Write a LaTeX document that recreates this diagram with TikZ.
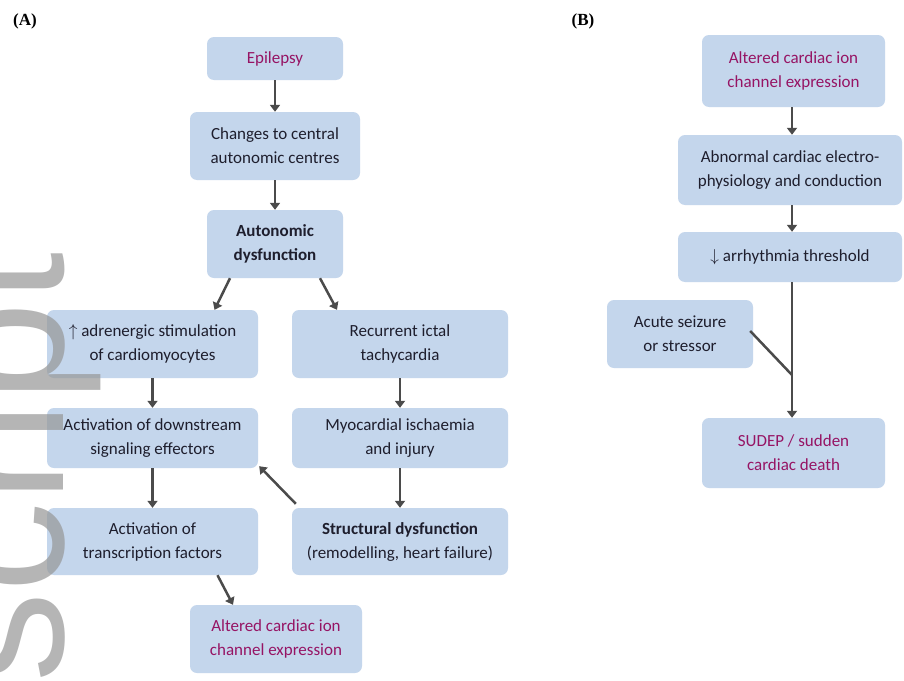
\documentclass[tikz,border=0pt]{standalone}
\usepackage{fontspec}
\usepackage{tikz}
\usetikzlibrary{arrows.meta}
\setmainfont{Carlito}
\newfontfamily\lblfont{Liberation Serif}
\newfontfamily\wmfont{Liberation Sans}
\definecolor{boxcol}{RGB}{196,214,236}
\definecolor{txtcol}{RGB}{30,30,45}
\definecolor{hlcol}{RGB}{150,20,100}
\definecolor{arrcol}{RGB}{75,75,75}
\definecolor{wmcol}{RGB}{150,150,150}
\tikzset{every picture/.style={x=1pt,y=-1pt}}
\tikzset{box/.style={rectangle,rounded corners=7pt,fill=boxcol,align=center,inner sep=2pt,text=txtcol,font=\fontsize{17}{24}\selectfont}}
\tikzset{hl/.style={text=hlcol}}
\tikzset{flow/.style={-{Triangle[length=7pt,width=10pt]},line width=2.5pt,draw=arrcol}}
\tikzset{merge/.style={line width=2.5pt,draw=arrcol}}
\tikzset{panel/.style={font=\lblfont\bfseries\fontsize{17}{17}\selectfont}}
\tikzset{wmark/.style={text=wmcol,opacity=.7,inner sep=0pt,font=\wmfont\fontsize{180}{180}\selectfont}}

\begin{document}
\begin{tikzpicture}
\useasboundingbox (0,0) rectangle (904,680);
\clip (0,0) rectangle (904,680);
\fill [white] (0,0) rectangle (904,680);

\node [panel] (la) at (25,21) {(A)};
\node [panel] (lb) at (583,21) {(B)};

\node [box,hl,minimum width=136pt,minimum height=43pt] (epi) at (275,58.5) {Epilepsy};
\node [box,minimum width=170pt,minimum height=68pt] (chg) at (275,146) {Changes to central\\autonomic centres};
\node [box,minimum width=136pt,minimum height=68pt] (aut) at (275,244) {\textbf{Autonomic}\\\textbf{dysfunction}};

\node [box,minimum width=211pt,minimum height=68pt] (adr) at (152.5,344) {$\uparrow$ adrenergic stimulation\\of cardiomyocytes};
\node [box,minimum width=211pt,minimum height=60pt] (dsr) at (152.5,438) {Activation of downstream\\signaling effectors};
\node [box,minimum width=211pt,minimum height=67pt] (trn) at (152.5,541.5) {Activation of\\transcription factors};

\node [box,minimum width=216pt,minimum height=68pt] (tac) at (400,344) {Recurrent ictal\\tachycardia};
\node [box,minimum width=216pt,minimum height=60pt] (isc) at (400,438) {Myocardial ischaemia\\and injury};
\node [box,minimum width=216pt,minimum height=67pt] (str) at (400,541.5) {\textbf{Structural dysfunction}\\(remodelling, heart failure)};

\node [box,hl,minimum width=172pt,minimum height=68pt] (alt) at (276,639) {Altered cardiac ion\\channel expression};

\node [box,hl,minimum width=183pt,minimum height=72pt] (altb) at (793.5,71) {Altered cardiac ion\\channel expression};
\node [box,minimum width=224pt,minimum height=70pt] (abn) at (790,170) {Abnormal cardiac electro-\\physiology and conduction};
\node [box,minimum width=224pt,minimum height=50pt] (arr) at (790,257) {$\downarrow$ arrhythmia threshold};
\node [box,minimum width=146pt,minimum height=68pt] (acu) at (680,334) {Acute seizure\\or stressor};
\node [box,hl,minimum width=183pt,minimum height=70pt] (sud) at (793.5,453) {SUDEP / sudden\\cardiac death};
\coordinate (mrg) at (792,375);

\draw [flow] (epi) -- (chg);
\draw [flow] (chg) -- (aut);
\draw [flow] ([xshift=-45pt]aut.south) -- ([xshift=62pt]adr.north);
\draw [flow] ([xshift=45pt]aut.south) -- ([xshift=-63pt]tac.north);
\draw [flow] (adr) -- (dsr);
\draw [flow] (dsr) -- (trn);
\draw [flow] (tac) -- (isc);
\draw [flow] (isc) -- (str);
\draw [flow] ([shift={(4pt,4pt)}]str.north west) -- ([shift={(1pt,2pt)}]dsr.south east);
\draw [flow] ([xshift=65pt]trn.south) -- ([xshift=-43pt]alt.north);

\draw [flow] (altb.south -| mrg) -- (abn.north -| mrg);
\draw [flow] (abn.south -| mrg) -- (arr.north -| mrg);
\draw [flow] (arr.south -| mrg) -- (sud.north -| mrg);
\draw [merge] ([shift={(-3pt,3pt)}]acu.east) -- (mrg);

\node [wmark,rotate=90,anchor=base east] (wm) at (63,252) {script};
\end{tikzpicture}
\end{document}
